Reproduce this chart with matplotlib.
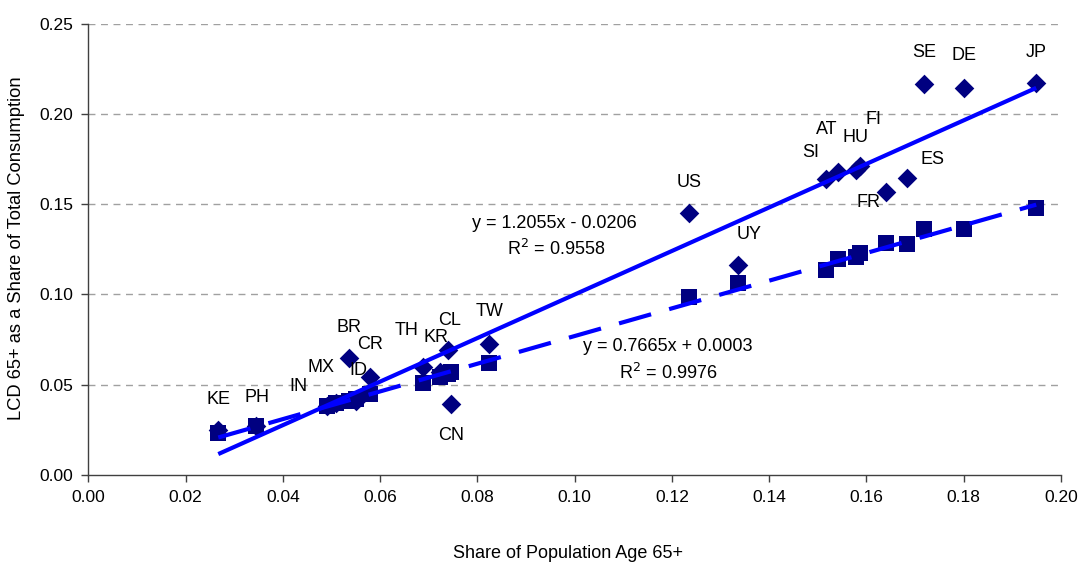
import matplotlib
matplotlib.use("Agg")
import matplotlib.pyplot as plt
import numpy as np

plt.rcParams['font.family'] = ['Liberation Sans', 'DejaVu Sans']

countries = ["KE", "PH", "IN", "MX", "BR", "ID", "CR", "TH", "KR", "CL", "CN", "TW",
             "US", "UY", "SI", "AT", "HU", "FI", "FR", "ES", "SE", "DE", "JP"]
pop65 = [0.0267, 0.0345, 0.0490, 0.0510, 0.0536, 0.0550, 0.0579, 0.0688, 0.0723, 0.0740,
         0.0745, 0.0824, 0.1235, 0.1335, 0.1517, 0.1542, 0.1578, 0.1587, 0.1640, 0.1683,
         0.1718, 0.1800, 0.1949]
lcd65 = [0.025, 0.027, 0.038, 0.040, 0.0648, 0.041, 0.0543, 0.060, 0.057, 0.0691,
         0.0392, 0.0725, 0.1450, 0.1163, 0.1639, 0.1680, 0.1689, 0.1711, 0.1565, 0.1643,
         0.2163, 0.2141, 0.2169]
popshare = [0.023, 0.027, 0.038, 0.040, 0.041, 0.042, 0.045, 0.051, 0.054, 0.056,
            0.057, 0.062, 0.0985, 0.1063, 0.1135, 0.1196, 0.1209, 0.1231, 0.1286, 0.1279,
            0.1360, 0.1360, 0.1480]

# trendline coefficients as printed on chart
fit_lcd = (1.2055, -0.0206)
fit_pop = (0.7665, 0.0003)

# label offsets (pixels)
label_offsets = {
    "KE": (0, 30), "PH": (1, 29), "IN": (-28, 20), "MX": (-15, 35), "BR": (0, 30),
    "ID": (2, 30), "CR": (0, 32), "TH": (-16, 36), "KR": (-4, 35), "CL": (1, 30),
    "CN": (0, -31), "TW": (0, 33), "US": (0, 31), "UY": (12, 30), "SI": (-15, 26),
    "AT": (-12, 42), "HU": (0, 32), "FI": (13, 46), "FR": (-17, -10), "ES": (26, 19),
    "SE": (0, 32), "DE": (0, 33), "JP": (0, 31),
}

fig = plt.figure(figsize=(10.8, 5.65), dpi=100)
ax = fig.add_axes([0.0819, 0.1593, 0.9824 - 0.0819, 0.9584 - 0.1593])

navy = "#000080"
blue = "#0000FF"

ax.scatter(pop65, lcd65, marker="D", s=10**2, color=navy, linewidths=0, zorder=3)
ax.scatter(pop65, popshare, marker="s", s=12**2, color=navy, linewidths=0, zorder=4)

xs = np.array([min(pop65), max(pop65)])
ax.plot(xs, fit_lcd[0] * xs + fit_lcd[1], color=blue, lw=3, solid_capstyle="butt", zorder=5)
ax.plot(xs, fit_pop[0] * xs + fit_pop[1], color=blue, lw=3, dashes=(8, 4.5),
        dash_capstyle="butt", zorder=5)

for c, x, y in zip(countries, pop65, lcd65):
    dx, dy = label_offsets[c]
    ax.annotate(c, (x, y), xytext=(dx, dy), textcoords="offset pixels",
                ha="center", va="center", fontsize=13, color="black", zorder=6)

ax.text(0.0959, 0.1395, "y = 1.2055x - 0.0206", ha="center", va="center", fontsize=13)
ax.text(0.0961, 0.1250, "R$^2$ = 0.9558", ha="center", va="center", fontsize=13)
ax.text(0.1192, 0.0709, "y = 0.7665x + 0.0003", ha="center", va="center", fontsize=13)
ax.text(0.1192, 0.0565, "R$^2$ = 0.9976", ha="center", va="center", fontsize=13)

ax.set_xlim(0, 0.20)
ax.set_ylim(0, 0.25)
ax.set_xticks(np.arange(0, 0.2001, 0.02))
ax.set_yticks(np.arange(0, 0.2501, 0.05))
ax.xaxis.set_major_formatter(matplotlib.ticker.FormatStrFormatter("%.2f"))
ax.yaxis.set_major_formatter(matplotlib.ticker.FormatStrFormatter("%.2f"))
ax.tick_params(direction="out", length=5, width=1, color="#404040", labelsize=12.5, pad=6)

for y in np.arange(0.05, 0.2501, 0.05):
    ax.axhline(y, color="#a0a0a0", lw=1, dashes=(5, 4), zorder=1)

ax.spines["top"].set_visible(False)
ax.spines["right"].set_visible(False)
for s in ("left", "bottom"):
    ax.spines[s].set_color("#404040")
    ax.spines[s].set_linewidth(1)

fig.text(568 / 1080, 1 - 554 / 565, "Share of Population Age 65+", fontsize=13,
         ha="center", va="center")
fig.text(17 / 1080, 1 - 248 / 565, "LCD 65+ as a Share of Total Consumption", fontsize=13.2,
         ha="center", va="center", rotation=90)

fig.savefig("out.png", dpi=100)
